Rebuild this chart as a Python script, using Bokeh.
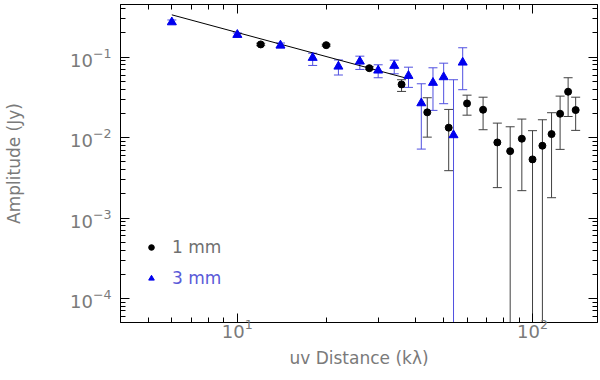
from bokeh.plotting import figure
from bokeh.models import (ColumnDataSource, Whisker, LogAxis, FixedTicker, Legend,
                          LegendItem, Range1d, CustomJSTickFormatter, TeeHead)
from bokeh.embed import file_html
from bokeh.resources import INLINE

# ---- data ----
mm1_uv = [12, 20, 28, 36, 44, 52, 60, 68, 76, 84, 92, 100, 108, 116, 124, 132, 140]
mm1_amp = [0.144, 0.141, 0.073, 0.0458, 0.0206, 0.0133, 0.0266, 0.0222, 0.00871,
           0.00679, 0.00969, 0.00536, 0.00793, 0.01105, 0.0198, 0.0372, 0.0220]
mm1_hi = [0.149, 0.145, 0.076, 0.0524, 0.0313, 0.0224, 0.0337, 0.0318, 0.01514,
          0.01364, 0.0170, 0.0122, 0.01667, 0.0204, 0.0328, 0.0555, 0.0318]
mm1_lo = [0.139, 0.137, 0.070, 0.0375, 0.01014, 0.00388, 0.0190, 0.01253, 0.00239,
          1e-9, 0.00219, 1e-9, 1e-9, 0.00179, 0.00714, 0.0183, 0.0123]

mm3_uv = [6, 10, 14, 18, 22, 26, 30, 34, 38, 42, 46, 50, 54, 58]
mm3_amp = [0.272, 0.190, 0.140, 0.0983, 0.0766, 0.0884, 0.0684, 0.0782, 0.0587,
           0.0268, 0.0481, 0.0565, 0.01074, 0.0859]
mm3_hi = [0.290, 0.200, 0.150, 0.112, 0.0923, 0.1029, 0.0804, 0.0918, 0.0751,
          0.0467, 0.0738, 0.0842, 0.0524, 0.1309]
mm3_lo = [0.258, 0.176, 0.130, 0.0789, 0.0600, 0.0704, 0.0555, 0.0622, 0.0421,
          0.00720, 0.0218, 0.0264, 1e-9, 0.0394]

fit_uv = [6, 38]
fit_amp = [0.336, 0.0539]

x_major = [10, 100]
x_minor = [4, 5, 6, 7, 8, 9, 20, 30, 40, 50, 60, 70, 80, 90, 200]
y_major = [1e-4, 1e-3, 1e-2, 1e-1]
y_minor = [k * 10.0 ** e for e in range(-5, 0) for k in range(2, 10)]

FONT = "DejaVu Sans"
GREY = "#7a7a7a"

p = figure(width=599, height=378, x_axis_type="log", y_axis_type="log",
           x_range=Range1d(4.02, 166), y_range=Range1d(5.03e-5, 0.4516),
           output_backend="svg", toolbar_location=None,
           min_border_left=120, min_border_right=2, min_border_top=4,
           min_border_bottom=56)
p.xgrid.visible = False
p.ygrid.visible = False
p.outline_line_color = "black"
p.background_fill_color = "white"

s1 = ColumnDataSource(dict(x=mm1_uv, y=mm1_amp, hi=mm1_hi, lo=mm1_lo))
s3 = ColumnDataSource(dict(x=mm3_uv, y=mm3_amp, hi=mm3_hi, lo=mm3_lo))

bc = "#404040"
p.add_layout(Whisker(base="x", upper="hi", lower="lo", source=s1, line_color=bc,
                     line_width=1,
                     upper_head=TeeHead(size=9, line_color=bc, line_width=1),
                     lower_head=TeeHead(size=9, line_color=bc, line_width=1)))
blc = "#5050e0"
p.add_layout(Whisker(base="x", upper="hi", lower="lo", source=s3, line_color=blc,
                     line_width=1,
                     upper_head=TeeHead(size=9, line_color=blc, line_width=1),
                     lower_head=TeeHead(size=9, line_color=blc, line_width=1)))

p.line(fit_uv, fit_amp, line_color="black", line_width=1)
r1 = p.scatter("x", "y", source=s1, marker="circle", size=7, color="black")
r3 = p.scatter("x", "y", source=s3, marker="triangle", size=9, color="#0000ee")

# axes
for ax, tick_maj, tick_min in ((p.xaxis[0], x_major, x_minor), (p.yaxis[0], y_major, y_minor)):
    ax.ticker = FixedTicker(ticks=tick_maj, minor_ticks=tick_min)
    ax.major_tick_in = 9
    ax.major_tick_out = 0
    ax.minor_tick_in = 5
    ax.minor_tick_out = 0
    ax.axis_line_color = "black"
    ax.major_tick_line_color = "black"
    ax.minor_tick_line_color = "black"
    ax.major_label_text_font = FONT
    ax.major_label_text_font_size = "18px"
    ax.major_label_text_color = GREY
    ax.axis_label_text_font = FONT
    ax.axis_label_text_font_size = "17px"
    ax.axis_label_text_font_style = "normal"
    ax.axis_label_text_color = GREY

p.xaxis.axis_label = "uv Distance (kλ)"
p.yaxis.axis_label = "Amplitude (Jy)"
p.xaxis.major_label_standoff = -4
p.xaxis.axis_label_standoff = 7
p.yaxis.major_label_standoff = 9
p.yaxis.axis_label_standoff = 43

blank = CustomJSTickFormatter(code="return ''")
top = LogAxis(ticker=FixedTicker(ticks=x_major, minor_ticks=x_minor), formatter=blank,
              major_tick_in=9, major_tick_out=0, minor_tick_in=5, minor_tick_out=0,
              major_label_standoff=0)
right = LogAxis(ticker=FixedTicker(ticks=y_major, minor_ticks=y_minor), formatter=blank,
                major_tick_in=9, major_tick_out=0, minor_tick_in=5, minor_tick_out=0,
                major_label_standoff=0)
p.add_layout(top, "above")
p.add_layout(right, "right")

leg1 = Legend(items=[LegendItem(label="1 mm", renderers=[r1])], location=(24, 65),
              label_text_color="#707070", label_text_font=FONT, label_text_font_size="17px",
              glyph_width=14, glyph_height=14, label_standoff=14, padding=0, margin=0,
              border_line_color=None, background_fill_alpha=0)
leg3 = Legend(items=[LegendItem(label="3 mm", renderers=[r3])], location=(24, 34),
              label_text_color="#5a5ad8", label_text_font=FONT, label_text_font_size="17px",
              glyph_width=14, glyph_height=14, label_standoff=14, padding=0, margin=0,
              border_line_color=None, background_fill_alpha=0)
p.add_layout(leg1)
p.add_layout(leg3)

open("out.html", "w").write(file_html(p, INLINE))
